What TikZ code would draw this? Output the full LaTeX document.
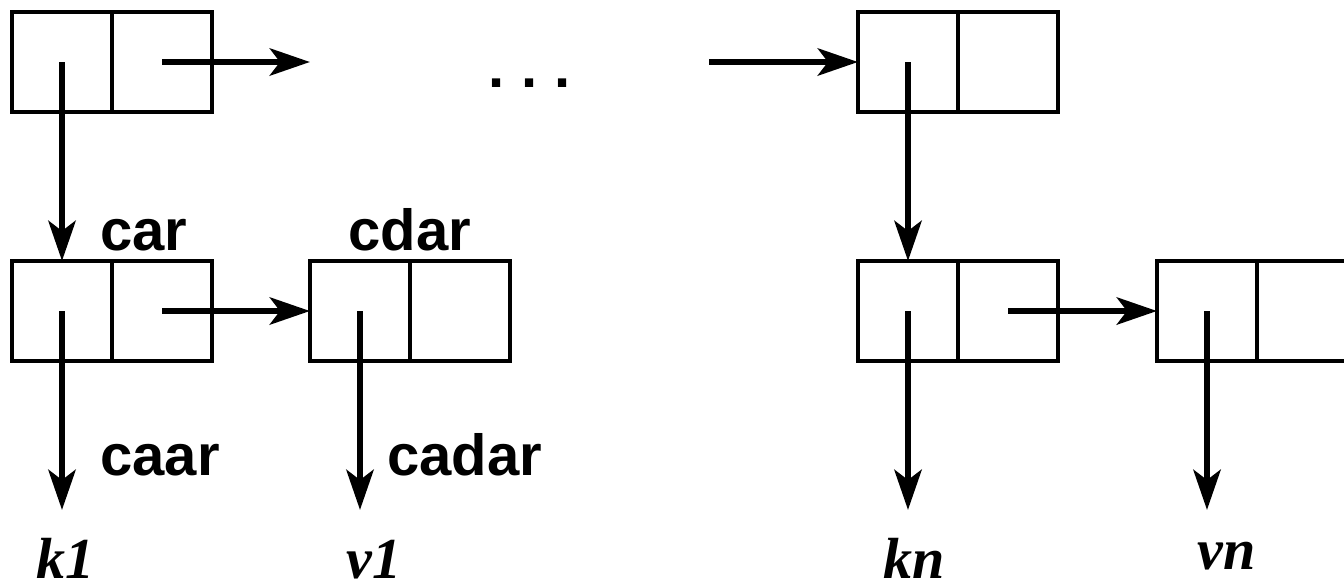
\documentclass[tikz,border=0pt]{standalone}
\usepackage{fontspec}
\setmainfont{Liberation Serif}
\setsansfont{Liberation Sans}
\usetikzlibrary{arrows.meta}
\begin{document}
\begin{tikzpicture}[x=0.5pt,y=-0.5pt,
  cell/.style={draw,line width=2pt,minimum width=50pt,minimum height=50pt,inner sep=0pt,outer sep=0pt},
  ptr/.style={line width=3.4pt,-{Stealth[length=20pt,width=13.5pt,inset=5pt]}},
  fn/.style={font=\sffamily\bfseries\fontsize{29}{34}\selectfont,anchor=base west,inner sep=0pt},
  var/.style={font=\rmfamily\bfseries\itshape\fontsize{29}{34}\selectfont,anchor=base west,inner sep=0pt}]
\useasboundingbox (0,0) rectangle (1344,586);
\clip (0,0) rectangle (1344,586);
% top row: first pair and the pair after the ellipsis
\node[cell] (a1) at (62,62) {};
\node[cell] (a2) at (162,62) {};
\node[cell] (b1) at (908,62) {};
\node[cell] (b2) at (1008,62) {};
% second row: key/value lists
\node[cell] (c1) at (62,311) {};
\node[cell] (c2) at (162,311) {};
\node[cell] (d1) at (360,311) {};
\node[cell] (d2) at (460,311) {};
\node[cell] (e1) at (908,311) {};
\node[cell] (e2) at (1008,311) {};
\node[cell] (f1) at (1207,311) {};
\node[cell] (f2) at (1307,311) {};
% free ends of pointers
\coordinate (gapL) at (310,62);
\coordinate (gapR) at (709,62);
\coordinate (k1end) at (62,510);
\coordinate (v1end) at (360,510);
\coordinate (knend) at (908,510);
\coordinate (vnend) at (1207,510);
% ellipsis
\node[font=\sffamily\bfseries\fontsize{29}{34}\selectfont,inner sep=0pt,anchor=base west] (dots) at (488,87) {.\kern8.5pt.\kern8.5pt.};
% pointers
\draw[ptr] (a2.center) -- (gapL);
\draw[ptr] (gapR) -- (b1.west);
\draw[ptr] (a1.center) -- (c1.north);
\draw[ptr] (b1.center) -- (e1.north);
\draw[ptr] (c2.center) -- (d1.west);
\draw[ptr] (e2.center) -- (f1.west);
\draw[ptr] (c1.center) -- (k1end);
\draw[ptr] (d1.center) -- (v1end);
\draw[ptr] (e1.center) -- (knend);
\draw[ptr] (f1.center) -- (vnend);
% labels
\node[fn] (car) at (100,250) {car};
\node[fn] (cdar) at (348,250) {cdar};
\node[fn] (caar) at (100,475) {caar};
\node[fn] (cadar) at (387,475) {cadar};
\node[var] (k1) at (36,578) {k1};
\node[var] (v1) at (346,578) {v1};
\node[var] (kn) at (883,578) {kn};
\node[var] (vn) at (1197,569) {vn};
\end{tikzpicture}
\end{document}
